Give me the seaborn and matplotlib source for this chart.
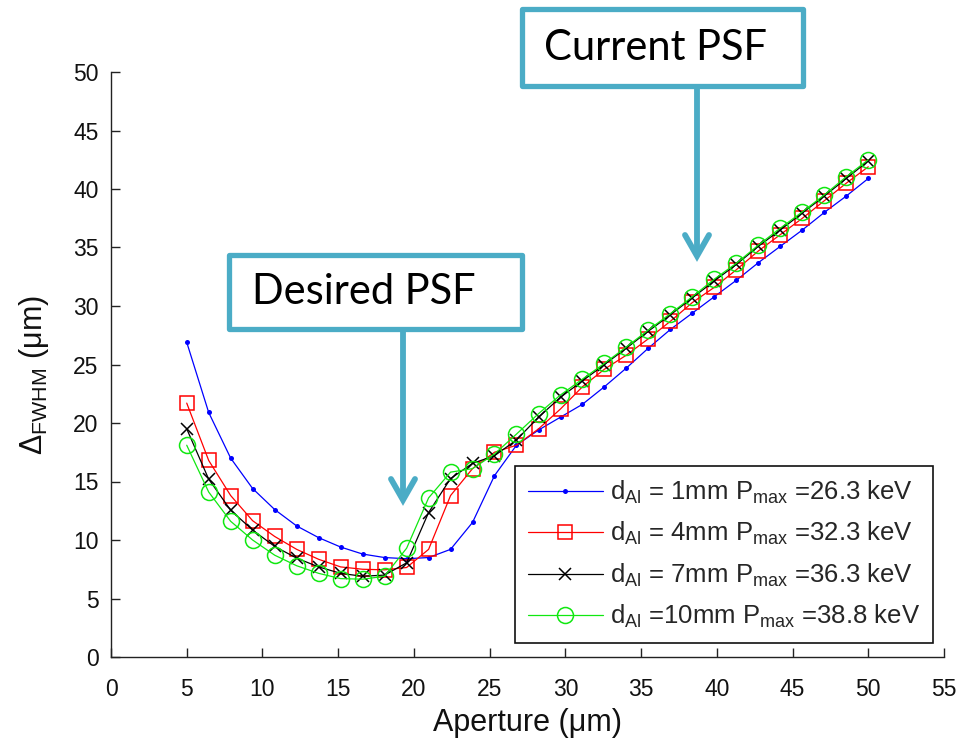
import matplotlib
matplotlib.use("Agg")
import matplotlib.pyplot as plt
from matplotlib.patches import Rectangle
from matplotlib.lines import Line2D
import pandas as pd
import seaborn as sns

# Aperture sizes (um) and FWHM of the PSF (um) for each Al filter thickness
aperture = [5.00, 6.45, 7.90, 9.35, 10.81, 12.26, 13.71, 15.16, 16.61, 18.06,
            19.52, 20.97, 22.42, 23.87, 25.32, 26.77, 28.23, 29.68, 31.13, 32.58,
            34.03, 35.48, 36.94, 38.39, 39.84, 41.29, 42.74, 44.19, 45.65, 47.10,
            48.55, 50.00]

fwhm_1mm = [26.9, 20.9, 17.0, 14.4, 12.6, 11.2, 10.2, 9.4, 8.8, 8.5,
            8.4, 8.5, 9.2, 11.5, 15.5, 18.1, 19.4, 20.5, 21.6, 23.1,
            24.7, 26.4, 28.0, 29.4, 30.8, 32.2, 33.7, 35.1, 36.5, 38.0,
            39.4, 40.9]

fwhm_4mm = [21.7, 16.8, 13.8, 11.65, 10.3, 9.2, 8.35, 7.7, 7.5, 7.45,
            7.65, 9.2, 13.8, 16.1, 17.5, 18.1, 19.5, 21.2, 23.1, 24.6,
            25.8, 27.2, 28.7, 30.3, 31.6, 33.1, 34.7, 36.1, 37.5, 39.0,
            40.5, 41.9]

fwhm_7mm = [19.5, 15.2, 12.55, 10.85, 9.45, 8.45, 7.7, 7.15, 6.9, 7.0,
            8.05, 12.35, 15.25, 16.55, 17.2, 18.55, 20.5, 22.2, 23.6, 25.0,
            26.4, 27.85, 29.25, 30.7, 32.15, 33.55, 35.1, 36.5, 37.95, 39.4,
            40.9, 42.4]

fwhm_10mm = [18.1, 14.1, 11.6, 10.0, 8.7, 7.8, 7.15, 6.7, 6.65, 6.9,
             9.3, 13.6, 15.8, 16.1, 17.35, 19.05, 20.8, 22.4, 23.75, 25.1,
             26.5, 27.95, 29.35, 30.8, 32.3, 33.65, 35.2, 36.65, 38.05, 39.5,
             41.05, 42.5]

series_labels = [
    r"d$_{\mathrm{Al}}$ = 1mm P$_{\mathrm{max}}$ =26.3 keV",
    r"d$_{\mathrm{Al}}$ = 4mm P$_{\mathrm{max}}$ =32.3 keV",
    r"d$_{\mathrm{Al}}$ = 7mm P$_{\mathrm{max}}$ =36.3 keV",
    r"d$_{\mathrm{Al}}$ =10mm P$_{\mathrm{max}}$ =38.8 keV",
]

x_ticks = [0, 5, 10, 15, 20, 25, 30, 35, 40, 45, 50, 55]
y_ticks = [0, 5, 10, 15, 20, 25, 30, 35, 40, 45, 50]

frames = []
for lab, vals in zip(series_labels, [fwhm_1mm, fwhm_4mm, fwhm_7mm, fwhm_10mm]):
    frames.append(pd.DataFrame({"aperture": aperture, "fwhm": vals, "filter": lab}))
df = pd.concat(frames, ignore_index=True)

sns.set_style("ticks")
plt.rcParams["font.family"] = ["Liberation Sans", "DejaVu Sans"]
plt.rcParams["mathtext.fontset"] = "custom"
plt.rcParams["mathtext.rm"] = "Liberation Sans"
plt.rcParams["mathtext.it"] = "Liberation Sans:italic"
plt.rcParams["mathtext.bf"] = "Liberation Sans:bold"

W, H = 959, 745
fig = plt.figure(figsize=(W / 100, H / 100), dpi=100)
ax = fig.add_axes([111 / W, 1 - 657 / H, (944 - 111) / W, (657 - 72) / H])

line_styles = [
    dict(color="#0000ff", marker="o", markersize=3.6, markerfacecolor="#0000ff",
         markeredgecolor="#0000ff", markeredgewidth=0),
    dict(color="#ff0000", marker="s", markersize=10, markerfacecolor="none",
         markeredgecolor="#ff0000", markeredgewidth=1.1),
    dict(color="#000000", marker="x", markersize=8.5, markeredgecolor="#000000",
         markeredgewidth=1.1),
    dict(color="#10e810", marker="o", markersize=11.5, markerfacecolor="none",
         markeredgecolor="#10e810", markeredgewidth=1.1),
]

for lab, st in zip(series_labels, line_styles):
    sns.lineplot(data=df[df["filter"] == lab], x="aperture", y="fwhm", ax=ax,
                 label=lab, errorbar=None, linewidth=0.9, **st)

ax.set_xlim(0, 55)
ax.set_ylim(0, 50)
ax.set_xticks(x_ticks)
ax.set_yticks(y_ticks)
sns.despine(ax=ax)
for side in ("left", "bottom"):
    ax.spines[side].set_color("#222222")
    ax.spines[side].set_linewidth(1.0)
ax.tick_params(axis="both", direction="in", length=6.5, width=1.0,
               color="#222222", labelsize=16.5, labelcolor="#111111")
ax.tick_params(axis="x", pad=15)
ax.tick_params(axis="y", pad=9)

ax.set_xlabel("Aperture (μm)", fontsize=22, color="#111111")
ax.set_ylabel(r"Δ$_{\mathrm{FWHM}}$ (μm)", fontsize=22, color="#111111")
ax.xaxis.set_label_coords(0.5, -0.087)
ax.yaxis.set_label_coords(-0.072, 0.482)

leg = ax.legend(loc="lower right", bbox_to_anchor=(0.987, 0.024), borderaxespad=0,
                frameon=True, fancybox=False, framealpha=1, edgecolor="#111111",
                fontsize=18.5, handlelength=2.9, handletextpad=0.3,
                labelspacing=0.55, borderpad=0.5)
leg.get_frame().set_linewidth(1.2)

# Callout boxes with arrows, laid out in figure pixel coordinates
teal = "#4BACC6"


def fx(px):
    return px / W


def fy(py):
    return 1 - py / H


def callout(x0, y0, x1, y1, text, tx, stem_x, tip_y):
    fig.add_artist(Rectangle((fx(x0), fy(y1)), fx(x1) - fx(x0), fy(y0) - fy(y1),
                             transform=fig.transFigure, facecolor="white",
                             edgecolor=teal, linewidth=3.8, joinstyle="round",
                             zorder=5))
    fig.text(fx(tx), fy((y0 + y1) / 2), text, fontsize=30, family="Lato",
             ha="left", va="center", color="black", zorder=6)
    fig.add_artist(Line2D([fx(stem_x), fx(stem_x)], [fy(y1 + 2), fy(tip_y)],
                          transform=fig.transFigure, color=teal, linewidth=4.2,
                          solid_capstyle="butt", zorder=4))
    fig.add_artist(Line2D([fx(stem_x - 12), fx(stem_x), fx(stem_x + 12)],
                          [fy(tip_y - 21), fy(tip_y), fy(tip_y - 21)],
                          transform=fig.transFigure, color=teal, linewidth=4.2,
                          solid_capstyle="round", solid_joinstyle="miter", zorder=4))


callout(522, 9, 803, 86, "Current PSF", 544, 697, 256)
callout(229, 255, 522, 329, "Desired PSF", 252, 403, 500)

fig.savefig("out.png", dpi=100)
